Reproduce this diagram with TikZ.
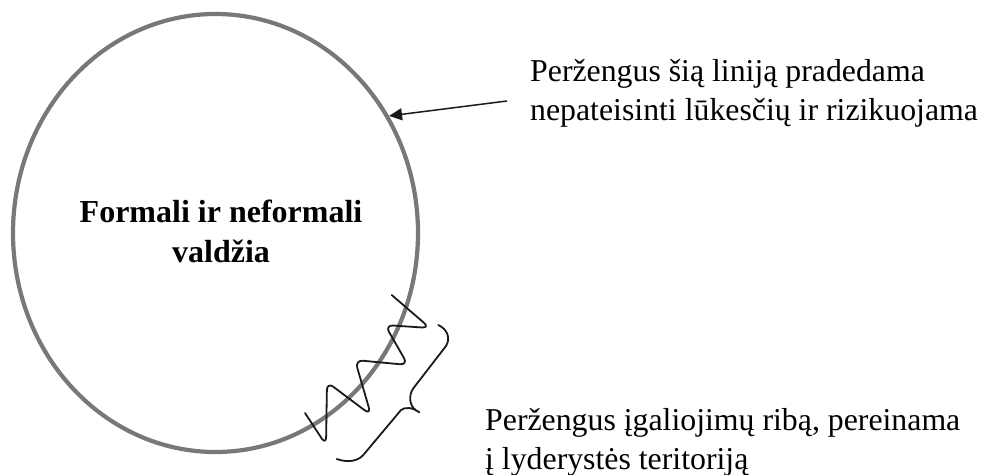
\documentclass[tikz,border=0pt]{standalone}
\usepackage{fontspec}
\setmainfont{Liberation Serif}
\usetikzlibrary{shapes.geometric,arrows.meta}
\definecolor{ringgray}{HTML}{787878}
\definecolor{inkblack}{HTML}{1A1A1A}
\begin{document}
\begin{tikzpicture}[x=1pt,y=-1pt,
  ring/.style={ellipse, draw=ringgray, line width=4.2pt,
    minimum width=405pt, minimum height=438pt, inner sep=0pt},
  title/.style={font=\fontsize{32}{40}\selectfont\bfseries, align=center, inner sep=0pt},
  note/.style={font=\fontsize{31.8}{39}\selectfont, align=left, inner sep=0pt, anchor=base west},
  ink/.style={draw=inkblack, line width=1.8pt, line cap=round, line join=round},
  pointer/.style={draw=inkblack, line width=1.5pt, -{Triangle[length=13pt,width=12pt]}},
]
\useasboundingbox (0,0) rectangle (984,474);

% the authority ring and its label
\node[ring] (ring) at (215.5,233) {};
\node[title] (power) at (221,231) {Formali ir neformali\\valdžia};

% notes on the right (anchored at the baseline of their last line)
\node[note] (lineNote) at (530,120) {Peržengus šią liniją pradedama\\nepateisinti lūkesčių ir rizikuojama};
\node[note] (limitNote) at (485,469) {Peržengus įgaliojimų ribą, pereinama\\į lyderystės teritoriją};

% arrow pointing at the boundary line
\coordinate (tail) at (507,101);
\draw[pointer] (tail) -- (ring.34);

% wavy crossing of the boundary
\draw[ink, rounded corners=8pt]
  (391.7,295) -- (430,328) -- (385,325) -- (408,365) -- (355,360)
  -- (371,415) -- (327,382) -- (326,445) -- (305,413);

% brace marking the crossing zone
\draw[ink]
  (438.3,325) .. controls (447,329) and (451,338) .. (446,346)
  -- (413.3,388.3) .. controls (408,396) and (409,408) .. (419.3,412.3)
  .. controls (412,407) and (405,407) .. (401,410)
  -- (363.3,455) .. controls (358,461) and (348,463) .. (336.7,459);
\end{tikzpicture}
\end{document}
